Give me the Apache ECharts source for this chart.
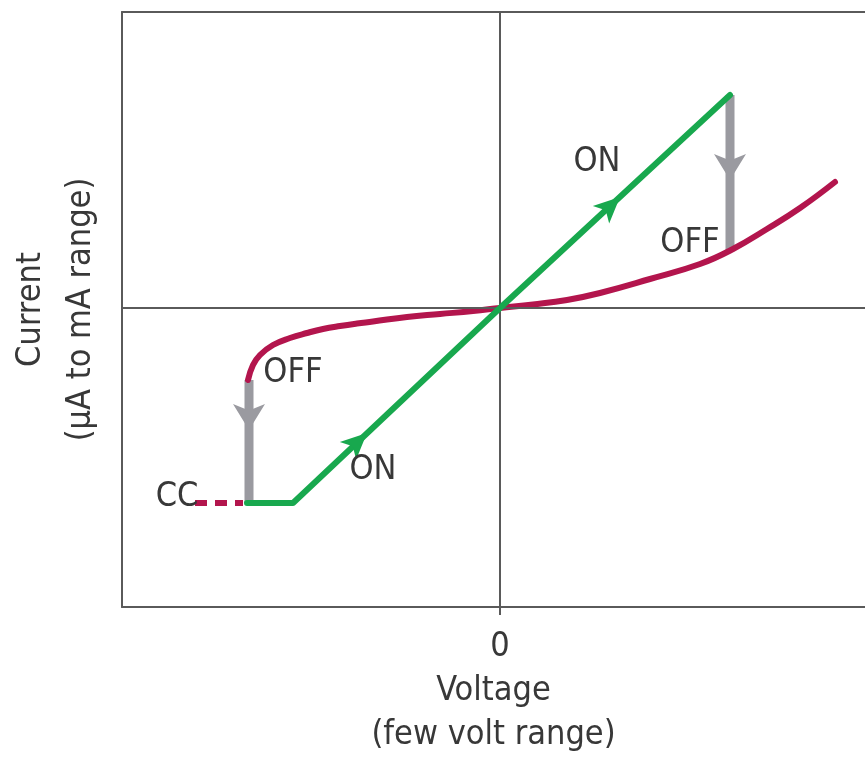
<!DOCTYPE html>
<html>
<head>
<meta charset="utf-8">
<script src="https://cdn.jsdelivr.net/npm/echarts@6/dist/echarts.min.js"></script>
<style>html,body{margin:0;padding:0;background:#fff}#c{width:865px;height:758px}</style>
</head>
<body>
<div id="c"></div>
<script>
// Axis ranges (arbitrary units, zero at the crossing; right edge is cut off in the original)
const xRange = [-3.78, 3.65];
const yRange = [-2.99, 2.96];
const xTickValues = [0];
const xTitle = 'Voltage\n(few volt range)';
const yTitle = 'Current\n(µA to mA range)';

// Red "OFF" curve
const offX = [-2.52, -2.47, -2.40, -2.27, -2.10, -1.93, -1.77, -1.60, -1.43, -1.27, -0.93, -0.60, -0.27, 0, 0.33, 0.67, 1.00, 1.50, 2.00, 2.33, 2.67, 3.00, 3.35];
const offY = [-0.72, -0.57, -0.47, -0.37, -0.30, -0.25, -0.21, -0.18, -0.155, -0.135, -0.09, -0.06, -0.03, 0, 0.035, 0.08, 0.15, 0.29, 0.44, 0.59, 0.79, 1.00, 1.26];

// Green "ON" path
const onX = [-2.53, -2.07, 0, 2.30];
const onY = [-1.95, -1.95, 0, 2.13];

// Compliance current (CC) dashed segment
const ccX = [-3.05, -2.57];
const ccY = [-1.95, -1.95];

// Grey ON->OFF transitions
const dropLeftX = [-2.51, -2.51];
const dropLeftY = [-0.72, -1.95];
const dropRightX = [2.30, 2.30];
const dropRightY = [2.13, 0.58];

// Arrow heads
const onArrowX = [-1.33, 1.20];
const onArrowY = [-1.25, 1.11];
const dropArrowX = [-2.51, 2.30];
const dropArrowY = [-1.22, 1.28];

// Text labels inside the plot
const labelText = ['ON', 'OFF', 'OFF', 'ON', 'CC'];
const labelX = [0.97, 1.90, -2.07, -1.27, -3.23];
const labelY = [1.46, 0.65, -0.65, -1.62, -1.89];

const zip = (xs, ys) => xs.map((x, i) => [x, ys[i]]);

const GREEN = '#18a84e';
const RED = '#b3154d';
const GREY = '#9a9aa0';
const AXIS = '#5a5a5a';
const TEXT = '#383838';
const FONT = '"Liberation Sans Narrow", "DejaVu Sans Condensed", "Liberation Sans", sans-serif';

const chart = echarts.init(document.getElementById('c'), null, {renderer: 'canvas'});
chart.setOption({
  animation: false,
  backgroundColor: '#fff',
  grid: {left: 122, right: 0, top: 12, bottom: 151, outerBoundsMode: 'none', containLabel: false},
  xAxis: [{
    type: 'value', min: xRange[0], max: xRange[1], position: 'bottom',
    axisLine: {show: true, onZero: false, lineStyle: {color: AXIS, width: 2}},
    splitLine: {show: false},
    axisTick: {show: true, customValues: xTickValues, length: 8, lineStyle: {color: AXIS, width: 2}},
    axisLabel: {show: true, customValues: xTickValues, margin: 23, fontSize: 34, color: TEXT, fontFamily: FONT},
    name: xTitle, nameLocation: 'middle', nameGap: 62,
    nameTextStyle: {fontSize: 34, lineHeight: 44, color: TEXT, fontFamily: FONT}
  }, {
    type: 'value', min: xRange[0], max: xRange[1], position: 'top',
    axisLine: {show: true, onZero: false, lineStyle: {color: AXIS, width: 2}},
    splitLine: {show: false}, axisTick: {show: false}, axisLabel: {show: false}
  }],
  yAxis: {
    type: 'value', min: yRange[0], max: yRange[1], position: 'left',
    axisLine: {show: true, onZero: false, lineStyle: {color: AXIS, width: 2}},
    splitLine: {show: false},
    axisTick: {show: false}, axisLabel: {show: false},
    name: yTitle, nameLocation: 'middle', nameGap: 16, nameRotate: 90,
    nameTextStyle: {fontSize: 34, lineHeight: 50, color: TEXT, fontFamily: FONT}
  },
  series: [
    {
      type: 'line', data: [], z: 1,
      markLine: {
        silent: true, symbol: 'none', label: {show: false},
        lineStyle: {color: AXIS, width: 2, type: 'solid'},
        data: [{xAxis: 0}, {yAxis: 0}]
      }
    },
    {type: 'line', data: zip(dropLeftX, dropLeftY), showSymbol: false, z: 2,
      lineStyle: {color: GREY, width: 9, cap: 'butt'}},
    {type: 'line', data: zip(dropRightX, dropRightY), showSymbol: false, z: 2,
      lineStyle: {color: GREY, width: 9, cap: 'butt'}},
    {type: 'scatter', data: zip(dropArrowX, dropArrowY), symbol: 'arrow', symbolSize: [24, 26],
      symbolRotate: 180, itemStyle: {color: GREY, opacity: 1}, z: 3},
    {type: 'line', data: zip(ccX, ccY), showSymbol: false, z: 4,
      lineStyle: {color: RED, width: 6, type: [12, 8]}},
    {type: 'line', data: zip(offX, offY), showSymbol: false, smooth: 0.45, z: 4,
      lineStyle: {color: RED, width: 6, cap: 'round'}},
    {type: 'line', data: zip(onX, onY), showSymbol: false, z: 5,
      lineStyle: {color: GREEN, width: 6, cap: 'round', join: 'round'}},
    {type: 'scatter', data: zip(onArrowX, onArrowY), symbol: 'arrow', symbolSize: [18, 26],
      symbolRotate: -47, itemStyle: {color: GREEN, opacity: 1}, z: 6},
    {type: 'scatter', z: 7, symbolSize: 2, itemStyle: {color: 'transparent', opacity: 1},
      data: labelText.map((t, i) => ({name: t, value: [labelX[i], labelY[i]]})),
      label: {show: true, position: 'inside', formatter: p => p.name,
        fontSize: 34, color: TEXT, fontFamily: FONT}}
  ]
});
</script>
</body>
</html>
